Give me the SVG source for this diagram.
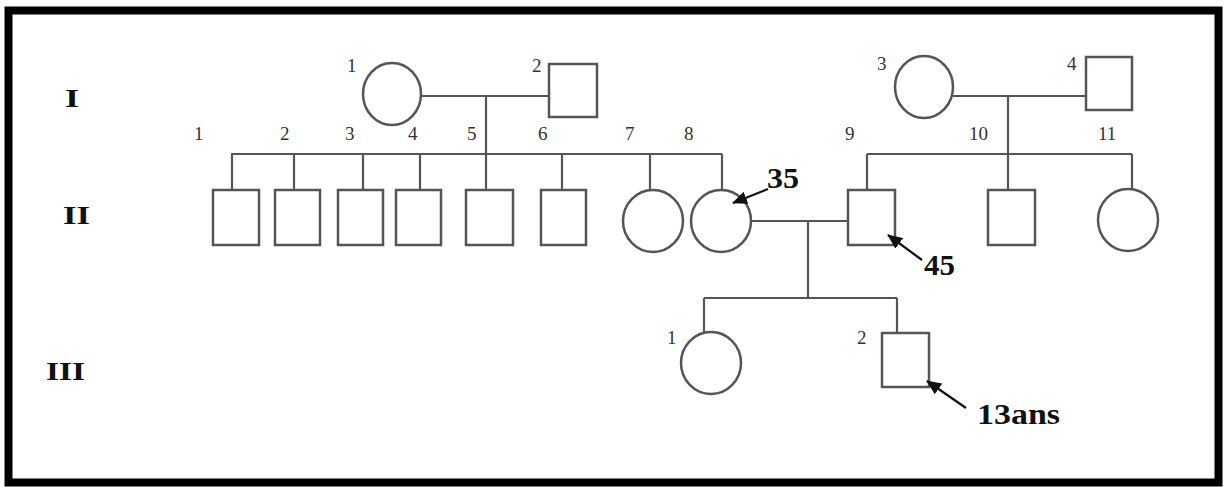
<svg xmlns="http://www.w3.org/2000/svg" width="1226" height="487" viewBox="0 0 1226 487">
<defs>
<style>
.sh{fill:#fff;stroke:#555;stroke-width:2.5}
.ln{fill:none;stroke:#555;stroke-width:2.2}
.ar{fill:none;stroke:#111;stroke-width:2.2}
.num{font-family:"Liberation Serif","Times New Roman",serif;font-size:19px;fill:#333}
.gen{font-family:"Liberation Serif","Times New Roman",serif;font-size:26px;font-weight:bold;fill:#111}
.age{font-family:"Liberation Serif","Times New Roman",serif;font-size:29px;font-weight:bold;fill:#111}
</style>
<marker id="ah" viewBox="0 0 15 13" refX="14" refY="6.5" markerWidth="15" markerHeight="13" orient="auto" markerUnits="userSpaceOnUse">
<path d="M0,0 L15,6.5 L0,13 z" fill="#111"/>
</marker>
</defs>
<rect x="0" y="0" width="1226" height="487" fill="#fff"/>
<rect x="8.5" y="10.5" width="1210" height="472" fill="none" stroke="#000" stroke-width="8"/>

<g id="gen-labels">
<text class="gen" x="65" y="107" textLength="14" lengthAdjust="spacingAndGlyphs">I</text>
<text class="gen" x="63" y="224" textLength="27" lengthAdjust="spacingAndGlyphs">II</text>
<text class="gen" x="46" y="380" textLength="39" lengthAdjust="spacingAndGlyphs">III</text>
</g>

<g id="I-1"><ellipse class="sh" cx="392" cy="94" rx="29" ry="31"/><text class="num" x="347" y="72">1</text></g>
<g id="I-2"><rect class="sh" x="549" y="64" width="48" height="53"/><text class="num" x="532" y="72">2</text></g>
<g id="I-3"><ellipse class="sh" cx="924" cy="87" rx="29" ry="31"/><text class="num" x="877" y="70">3</text></g>
<g id="I-4"><rect class="sh" x="1086" y="57" width="46" height="53"/><text class="num" x="1067" y="70">4</text></g>

<g id="II-1"><rect class="sh" x="213" y="190" width="46" height="55"/><text class="num" x="194" y="140">1</text></g>
<g id="II-2"><rect class="sh" x="275" y="190" width="45" height="55"/><text class="num" x="280" y="140">2</text></g>
<g id="II-3"><rect class="sh" x="338" y="190" width="45" height="55"/><text class="num" x="345" y="140">3</text></g>
<g id="II-4"><rect class="sh" x="396" y="190" width="45" height="55"/><text class="num" x="408" y="140">4</text></g>
<g id="II-5"><rect class="sh" x="466" y="190" width="47" height="55"/><text class="num" x="467" y="140">5</text></g>
<g id="II-6"><rect class="sh" x="541" y="190" width="45" height="55"/><text class="num" x="538" y="140">6</text></g>
<g id="II-7"><ellipse class="sh" cx="653" cy="221" rx="30" ry="31"/><text class="num" x="625" y="140">7</text></g>
<g id="II-8"><ellipse class="sh" cx="721" cy="221" rx="30" ry="31"/><text class="num" x="684" y="140">8</text><text class="age" x="767" y="188" textLength="32" lengthAdjust="spacingAndGlyphs">35</text></g>
<g id="II-9"><rect class="sh" x="848" y="190" width="47" height="55"/><text class="num" x="845" y="140">9</text><text class="age" x="924" y="275" textLength="31" lengthAdjust="spacingAndGlyphs">45</text></g>
<g id="II-10"><rect class="sh" x="988" y="190" width="47" height="55"/><text class="num" x="969" y="140">10</text></g>
<g id="II-11"><ellipse class="sh" cx="1128" cy="220" rx="30" ry="31"/><text class="num" x="1098" y="140">11</text></g>

<g id="III-1"><ellipse class="sh" cx="711" cy="363" rx="30" ry="31"/><text class="num" x="667" y="344">1</text></g>
<g id="III-2"><rect class="sh" x="882" y="333" width="47" height="54"/><text class="num" x="857" y="344">2</text><text class="age" x="977" y="424" textLength="83" lengthAdjust="spacingAndGlyphs">13ans</text></g>

<g id="connectors">
<line class="ln" x1="421" y1="96" x2="549" y2="96"/>
<line class="ln" x1="486" y1="96" x2="486" y2="190"/>
<line class="ln" x1="231" y1="154" x2="722" y2="154"/>
<line class="ln" x1="232" y1="154" x2="232" y2="190"/>
<line class="ln" x1="294" y1="154" x2="294" y2="190"/>
<line class="ln" x1="363" y1="154" x2="363" y2="190"/>
<line class="ln" x1="420" y1="154" x2="420" y2="190"/>
<line class="ln" x1="562" y1="154" x2="562" y2="190"/>
<line class="ln" x1="650" y1="154" x2="650" y2="190"/>
<line class="ln" x1="722" y1="154" x2="722" y2="190"/>
<line class="ln" x1="953" y1="96" x2="1086" y2="96"/>
<line class="ln" x1="1008" y1="96" x2="1008" y2="190"/>
<line class="ln" x1="867" y1="154" x2="1132" y2="154"/>
<line class="ln" x1="867" y1="154" x2="867" y2="190"/>
<line class="ln" x1="1132" y1="154" x2="1132" y2="190"/>
<line class="ln" x1="751" y1="221" x2="848" y2="221"/>
<line class="ln" x1="808" y1="221" x2="808" y2="298"/>
<line class="ln" x1="704" y1="298" x2="897" y2="298"/>
<line class="ln" x1="704" y1="298" x2="704" y2="333"/>
<line class="ln" x1="897" y1="298" x2="897" y2="333"/>
<line class="ar" x1="768" y1="189" x2="733" y2="203" marker-end="url(#ah)"/>
<line class="ar" x1="922" y1="260" x2="888" y2="235" marker-end="url(#ah)"/>
<line class="ar" x1="966" y1="408" x2="927" y2="381" marker-end="url(#ah)"/>
</g>
</svg>
